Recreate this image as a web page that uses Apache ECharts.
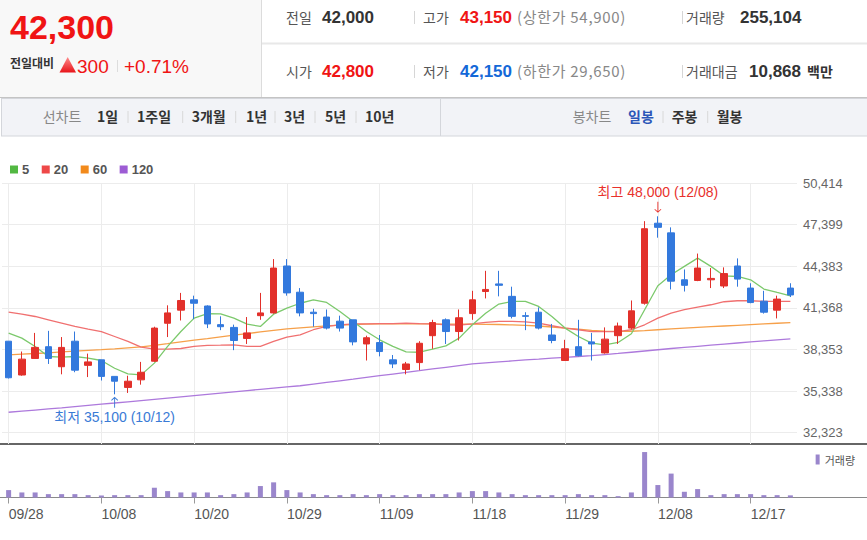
<!DOCTYPE html>
<html>
<head>
<meta charset="utf-8">
<script src="https://cdn.jsdelivr.net/npm/echarts/dist/echarts.min.js"></script>
<style>
  html, body { margin: 0; padding: 0; background: #fff; }
  #wrap { position: relative; width: 867px; height: 540px; overflow: hidden; }
  #chart { position: absolute; left: 0; top: 0; width: 867px; height: 540px; }
  #head { position: absolute; left: 0; top: 0; }
  .k { font-family: "Noto Sans CJK KR", sans-serif; }
  .n { font-family: "Liberation Sans", "Noto Sans CJK KR", sans-serif; }
  .lab { font-size: 14px; fill: #555; }
  .val { font-size: 17px; font-weight: bold; }
  .sub { font-size: 15px; fill: #888; letter-spacing: 0.7px; }
  .tab { font-size: 14px; font-weight: bold; fill: #333; }
</style>
</head>
<body>
<div id="wrap">
  <div id="chart"></div>
  <svg id="head" width="867" height="140" xmlns="http://www.w3.org/2000/svg">
    <defs>
      <linearGradient id="tri" x1="0" y1="0" x2="0" y2="1">
        <stop offset="0" stop-color="#ff8c8c"/>
        <stop offset="1" stop-color="#e8141a"/>
      </linearGradient>
    </defs>
    <rect x="0" y="0" width="262" height="97" fill="#f8f8f8"/>
    <line x1="261.5" y1="0" x2="261.5" y2="97" stroke="#dcdcdc"/>
    <line x1="262" y1="43.5" x2="867" y2="43.5" stroke="#e8e8e8" stroke-width="2"/>
    <line x1="0" y1="97.5" x2="867" y2="97.5" stroke="#c4c4c4"/>

    <text x="10" y="39.3" class="n" font-size="34" font-weight="bold" fill="#f01414">42,300</text>
    <text x="10" y="68" class="k" font-size="12" font-weight="bold" fill="#333">전일대비</text>
    <polygon points="59.5,72.5 67.7,57 76,72.5" fill="url(#tri)"/>
    <text x="77" y="72.7" class="n" font-size="19" fill="#f01414">300</text>
    <line x1="117.5" y1="60" x2="117.5" y2="72" stroke="#dddddd"/>
    <text x="124" y="72.7" class="n" font-size="19" fill="#f01414">+0.71%</text>

    <text x="286" y="23" class="k lab">전일</text>
    <text x="322" y="23.3" class="n val" fill="#333">42,000</text>
    <line x1="414.5" y1="11" x2="414.5" y2="24" stroke="#d6d6d6"/>
    <text x="423" y="23" class="k lab">고가</text>
    <text x="460" y="23.3" class="n val" fill="#f01414">43,150</text>
    <text x="517" y="23" class="k sub">(상한가 54,900)</text>
    <line x1="682.5" y1="11" x2="682.5" y2="24" stroke="#d6d6d6"/>
    <text x="686" y="23" class="k lab">거래량</text>
    <text x="740" y="23.3" class="n val" fill="#333">255,104</text>

    <text x="286" y="77" class="k lab">시가</text>
    <text x="322" y="77.3" class="n val" fill="#f01414">42,800</text>
    <line x1="414.5" y1="65" x2="414.5" y2="78" stroke="#d6d6d6"/>
    <text x="423" y="77" class="k lab">저가</text>
    <text x="460" y="77.3" class="n val" fill="#1468d8">42,150</text>
    <text x="517" y="77" class="k sub">(하한가 29,650)</text>
    <line x1="682.5" y1="65" x2="682.5" y2="78" stroke="#d6d6d6"/>
    <text x="686" y="77" class="k lab">거래대금</text>
    <text x="749" y="77.3" class="n val" fill="#333">10,868</text>
    <text x="807" y="77" class="k" font-size="14" font-weight="bold" fill="#333">백만</text>

    <rect x="1.5" y="98.5" width="866" height="37.5" fill="#f2f3f7" stroke="#d4d6db"/>
    <line x1="440.5" y1="99" x2="440.5" y2="136" stroke="#d4d6db"/>
    <text x="42.7" y="122" class="k" font-size="14" fill="#888">선차트</text>
    <text x="97" y="122" class="k tab">1일</text>
    <line x1="128" y1="111" x2="128" y2="123" stroke="#d8d8d8"/>
    <text x="137" y="122" class="k tab">1주일</text>
    <line x1="182.7" y1="111" x2="182.7" y2="123" stroke="#d8d8d8"/>
    <text x="191.7" y="122" class="k tab">3개월</text>
    <line x1="235.7" y1="111" x2="235.7" y2="123" stroke="#d8d8d8"/>
    <text x="246" y="122" class="k tab">1년</text>
    <line x1="275" y1="111" x2="275" y2="123" stroke="#d8d8d8"/>
    <text x="284" y="122" class="k tab">3년</text>
    <line x1="315" y1="111" x2="315" y2="123" stroke="#d8d8d8"/>
    <text x="325" y="122" class="k tab">5년</text>
    <line x1="356" y1="111" x2="356" y2="123" stroke="#d8d8d8"/>
    <text x="365" y="122" class="k tab">10년</text>
    <text x="572.7" y="122" class="k" font-size="14" fill="#888">봉차트</text>
    <text x="628" y="122" class="k tab" style="fill:#2b56b8">일봉</text>
    <line x1="663" y1="111" x2="663" y2="123" stroke="#d8d8d8"/>
    <text x="671.7" y="122" class="k tab">주봉</text>
    <line x1="707.7" y1="111" x2="707.7" y2="123" stroke="#d8d8d8"/>
    <text x="716.7" y="122" class="k tab">월봉</text>
  </svg>
</div>
<script>
// 일봉 데이터 (09/28 ~ 12/22)
const dates = ['09/28','09/29','09/30','10/01','10/05','10/06','10/07','10/08','10/12','10/13',
  '10/14','10/15','10/18','10/19','10/20','10/21','10/22','10/25','10/26','10/27',
  '10/28','10/29','11/01','11/02','11/03','11/04','11/05','11/08','11/09','11/10',
  '11/11','11/12','11/15','11/16','11/17','11/18','11/19','11/22','11/23','11/24',
  '11/25','11/26','11/29','11/30','12/01','12/02','12/03','12/06','12/07','12/08',
  '12/09','12/10','12/13','12/14','12/15','12/16','12/17','12/20','12/21','12/22'];

const opens = [38950,36500,37700,38550,37100,38950,37200,37600,36400,35600,
  36150,37500,40250,41200,41950,41500,40150,39950,39150,40800,
  41000,44400,42500,41050,40700,40400,40500,38750,38850,37600,
  36900,37400,39350,40500,39650,40950,42550,43100,42200,40800,
  41050,39400,37550,38550,38900,38100,39350,39900,41700,47500,
  46800,43400,43350,43400,42950,44400,42800,41850,41200,42800];
const closes = [36300,37650,38500,37700,38500,36850,37450,36400,36050,36050,
  36700,39900,41000,41900,41700,40200,40000,39000,39550,41000,
  44250,42450,41000,40950,39900,39900,38900,39200,38200,37300,
  37300,38800,40300,39650,40650,41950,42700,43000,40750,40750,
  39900,39000,38400,37900,38750,39100,40050,41150,47100,47200,
  43300,43000,44250,43500,43850,43450,41750,41050,42000,42300];
const lows = [36250,36450,37700,37300,36550,36700,36350,36100,35100,35200,
  35800,37450,39250,40450,40550,39900,39750,38300,38750,40500,
  40950,42250,40750,40000,39800,39650,38650,37550,37850,37000,
  36550,36850,38400,38750,39000,40500,42050,42200,40600,39750,
  39800,38800,37550,37850,37550,38050,38750,39800,41600,46450,
  42700,42550,43300,42800,42800,42900,41700,40950,40600,42150];
const highs = [38950,38200,39550,39700,39250,39650,38050,37600,36400,36450,
  37450,40000,41550,42450,42250,41550,40750,40150,40700,42450,
  44900,44900,42800,41300,41250,40800,40500,39350,39400,37950,
  37450,38950,40500,40600,41250,42600,44050,44050,42900,41050,
  41400,40200,39050,40500,39550,39950,40300,41900,47650,48000,
  47200,44150,45300,44250,44300,44950,43150,42600,42250,43150];

// 이동평균선
const ma5 = [39530,39170,38570,37840,37790,37840,37720,37550,36990,36580,
  36510,37360,38570,39650,40620,40940,40930,40620,40190,40020,
  40910,41350,41700,41950,41760,41100,40380,39650,39050,38570,
  38180,38150,38370,38610,39170,40140,40980,41640,41830,41830,
  41470,40740,39900,39290,38810,38690,38860,39490,41230,42970,
  43760,44370,44970,44370,43690,43640,43400,42730,42480,42240];
const ma20 = [41060,40910,40740,40500,40260,40020,39820,39650,39290,38930,
  38520,38370,38370,38420,38570,38640,38660,38690,38570,38570,
  38930,39240,39410,39780,40020,40140,40210,40210,40230,40230,
  40260,40230,40210,40140,40120,40210,40310,40380,40380,40350,
  40260,40070,39900,39780,39650,39650,39650,39780,40140,40620,
  40980,41230,41420,41590,41810,41880,41880,41830,41830,41830];
const ma60 = [37960,38010,38060,38110,38170,38230,38290,38340,38400,38470,
  38540,38650,38770,38900,39020,39130,39260,39390,39500,39620,
  39740,39850,39920,39990,40060,40120,40160,40180,40200,40210,
  40210,40200,40200,40190,40180,40180,40170,40160,40130,40100,
  40050,39980,39900,39820,39730,39680,39660,39670,39720,39780,
  39840,39900,39950,40000,40050,40100,40150,40200,40250,40300];
const ma120 = [33800,33880,33960,34040,34120,34210,34300,34390,34470,34560,
  34650,34740,34830,34920,35010,35100,35190,35280,35370,35460,
  35550,35640,35720,35840,35960,36080,36200,36330,36450,36570,
  36690,36810,36940,37060,37180,37300,37380,37450,37520,37590,
  37650,37720,37780,37840,37900,37980,38060,38150,38240,38330,
  38420,38500,38580,38660,38740,38820,38900,38980,39050,39120];

const volumes = [880000,600000,600000,400000,400000,400000,280000,240000,280000,280000,
  280000,1160000,760000,600000,600000,600000,280000,400000,600000,1360000,
  1800000,880000,600000,400000,280000,280000,400000,280000,400000,280000,
  280000,400000,400000,400000,600000,760000,760000,600000,400000,280000,
  280000,280000,280000,400000,280000,280000,160000,600000,5400000,1480000,
  2840000,680000,1000000,280000,400000,400000,400000,280000,280000,255104];

const yLabels = ['32,323','35,338','38,353','41,368','44,383','47,399','50,414'];

const RED = '#e2302a';
const BLUE = '#3379dd';
const FONT = '"Liberation Sans", "Noto Sans CJK KR", sans-serif';
const ARROW_DOWN = 'path://M4.4,0 L5.6,0 L5.6,13.2 L8.8,10 L9.6,10.8 L5,15.4 L0.4,10.8 L1.2,10 L4.4,13.2 Z';
const ARROW_UP = 'path://M4.4,15.4 L5.6,15.4 L5.6,2.2 L8.8,5.4 L9.6,4.6 L5,0 L0.4,4.6 L1.2,5.4 L4.4,2.2 Z';

const candles = dates.map((d, i) => [opens[i], closes[i], lows[i], highs[i]]);
const hiVal = Math.max(...highs), hiIdx = highs.indexOf(hiVal);
const loVal = Math.min(...lows), loIdx = lows.indexOf(loVal);
const fmt = v => v.toLocaleString('en-US');

const maLine = (name, data, color) => ({
  name, type: 'line', data, xAxisIndex: 0, yAxisIndex: 0,
  symbol: 'none', z: 1,
  lineStyle: { width: 1.3, color },
  itemStyle: { color }
});

const chart = echarts.init(document.getElementById('chart'), null, { renderer: 'svg' });
chart.setOption({
  animation: false,
  textStyle: { fontFamily: FONT },
  legend: [
    {
      data: [
        { name: '5', itemStyle: { color: '#52b842' } },
        { name: '20', itemStyle: { color: '#ee4848' } },
        { name: '60', itemStyle: { color: '#f28a1c' } },
        { name: '120', itemStyle: { color: '#9d5cd4' } }
      ],
      left: 10, top: 163, padding: 0,
      icon: 'rect', itemWidth: 8, itemHeight: 8, itemGap: 12.5,
      selectedMode: false,
      textStyle: { color: '#555', fontSize: 13, fontWeight: 'bold', padding: [0, 0, 0, -1] }
    },
    {
      data: ['거래량'],
      right: 12, top: 454, padding: 0,
      icon: 'rect', itemWidth: 4, itemHeight: 10,
      selectedMode: false,
      textStyle: { color: '#555', fontSize: 11, fontFamily: 'Noto Sans CJK KR' }
    }
  ],
  grid: [
    { left: 2, top: 183, width: 795, height: 261 },
    { left: 2, top: 183, width: 795, height: 249.7 },
    { left: 2, top: 447, width: 795, height: 50.5 }
  ],
  xAxis: [
    {
      type: 'category', gridIndex: 0, data: dates, boundaryGap: true,
      axisLine: { show: false }, axisTick: { show: false }, axisLabel: { show: false },
      splitLine: { show: true, interval: 6, alignWithLabel: true, lineStyle: { color: '#ececec' } }
    },
    { type: 'category', gridIndex: 1, data: dates, show: false },
    {
      type: 'category', gridIndex: 2, data: dates, boundaryGap: true,
      axisLine: { show: false },
      axisTick: { show: true, interval: 6, alignWithLabel: true, length: 6, lineStyle: { color: '#999' } },
      axisLabel: { interval: 6, align: 'left', margin: 9, color: '#555', fontSize: 14 },
      splitLine: { show: false }
    }
  ],
  yAxis: [
    { type: 'value', gridIndex: 0, min: 31500, max: 50414, show: false },
    {
      type: 'value', gridIndex: 1, position: 'right', min: 0, max: 6, interval: 1,
      axisLine: { show: false }, axisTick: { show: false },
      splitLine: { show: true, lineStyle: { color: '#ececec' } },
      axisLabel: { margin: 6, color: '#666', fontSize: 13, formatter: v => yLabels[v] }
    },
    { type: 'value', gridIndex: 2, min: 0, max: 6000000, show: false }
  ],
  series: [
    maLine('120', ma120, '#ad79dc'),
    maLine('60', ma60, '#f6a04a'),
    maLine('20', ma20, '#f07070'),
    maLine('5', ma5, '#7cc96c'),
    {
      name: '일봉', type: 'candlestick', xAxisIndex: 0, yAxisIndex: 0, z: 3,
      data: candles, barWidth: 7,
      itemStyle: { color: RED, color0: BLUE, borderColor: RED, borderColor0: BLUE, borderWidth: 1 },
      markPoint: {
        silent: true,
        data: [
          {
            coord: [dates[hiIdx], hiVal],
            symbol: ARROW_DOWN, symbolSize: [7, 11], symbolOffset: [0, -9],
            itemStyle: { color: '#e8312c' },
            label: {
              show: true, position: 'top', distance: 3,
              color: '#e8312c', fontSize: 14,
              formatter: '최고 ' + fmt(hiVal) + ' (' + dates[hiIdx] + ')'
            }
          },
          {
            coord: [dates[loIdx], loVal],
            symbol: ARROW_UP, symbolSize: [7, 11], symbolOffset: [0, 8],
            itemStyle: { color: '#3a7bd6' },
            label: {
              show: true, position: 'bottom', distance: 2,
              color: '#3a7bd6', fontSize: 14,
              formatter: '최저 ' + fmt(loVal) + ' (' + dates[loIdx] + ')'
            }
          }
        ]
      }
    },
    {
      name: '거래량', type: 'bar', xAxisIndex: 2, yAxisIndex: 2,
      data: volumes, barWidth: 5,
      itemStyle: { color: '#9a86cc' }
    }
  ],
  graphic: [
    { type: 'line', shape: { x1: 0, y1: 444, x2: 867, y2: 444 }, style: { stroke: '#666', lineWidth: 2 } },
    { type: 'line', shape: { x1: 0, y1: 497.5, x2: 867, y2: 497.5 }, style: { stroke: '#8a8a8a', lineWidth: 1 } }
  ]
});
</script>
</body>
</html>
